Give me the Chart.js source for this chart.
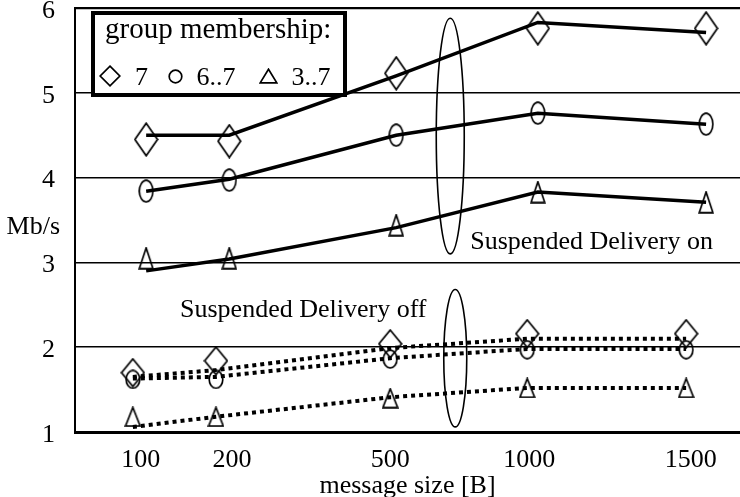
<!DOCTYPE html>
<html>
<head>
<meta charset="utf-8">
<script src="https://cdn.jsdelivr.net/npm/chart.js@4.4.0/dist/chart.umd.min.js"></script>
<style>
html, body { margin: 0; padding: 0; background: #fff; }
canvas { display: block; }
</style>
</head>
<body>
<canvas id="myChart" width="740" height="497"></canvas>
<script>
"use strict"
// message size [B] and group membership
const sizes = [100, 200, 500, 1000, 1500];
const groups = ['7', '6..7', '3..7'];

// Suspended Delivery on (solid lines), Mb/s
const onLine7 = [4.50, 4.50, 5.20, 5.83, 5.71];
const onLine67 = [3.84, 3.98, 4.50, 4.76, 4.63];
const onLine37 = [2.90, 3.04, 3.41, 3.83, 3.71];
const onMark7 = [4.45, 4.43, 5.23, 5.76, 5.76];
const onMark67 = [3.84, 3.97, 4.50, 4.76, 4.63];
const onMark37 = [3.05, 3.05, 3.44, 3.83, 3.71];

// Suspended Delivery off (dotted lines), Mb/s
const offLine7 = [1.65, 1.73, 1.99, 2.10, 2.10];
const offLine67 = [1.63, 1.65, 1.87, 1.98, 1.98];
const offLine37 = [1.06, 1.18, 1.41, 1.52, 1.52];
const offMark7 = [1.70, 1.84, 2.04, 2.16, 2.16];
const offMark67 = [1.62, 1.62, 1.86, 1.97, 1.97];
const offMark37 = [1.18, 1.18, 1.40, 1.52, 1.52];

const yTicks = [1, 2, 3, 4, 5, 6];

// the x axis of the drawing is not to scale: where each size sits along the axis (0..1)
const axisStops = {
    x:    [0.099, 0.236, 0.474, 0.683, 0.926], // tick labels
    xOn:  [0.107, 0.232, 0.483, 0.696, 0.949],
    xOff: [0.087, 0.212, 0.474, 0.680, 0.919]
};

class StopScale extends Chart.LinearScale {
    static id = 'stops';
    getPixelForValue(value) {
        const f = axisStops[this.id];
        let i = 0;
        while (i < sizes.length - 2 && value > sizes[i + 1]) i++;
        const d = f[i] + (value - sizes[i]) / (sizes[i + 1] - sizes[i]) * (f[i + 1] - f[i]);
        return this.getPixelForDecimal(d);
    }
    getValueForPixel(pixel) {
        const f = axisStops[this.id];
        const d = this.getDecimalForPixel(pixel);
        let i = 0;
        while (i < f.length - 2 && d > f[i + 1]) i++;
        return sizes[i] + (d - f[i]) / (f[i + 1] - f[i]) * (sizes[i + 1] - sizes[i]);
    }
}
Chart.register(StopScale);

// hollow markers, the plot ones are stretched in height like in the original figure
function marker(shape, w, h) {
    const c = document.createElement('canvas');
    c.width = w; c.height = h;
    const ctx = c.getContext('2d');
    const p = 1.2;
    ctx.lineWidth = 1.7;
    ctx.strokeStyle = '#000';
    ctx.beginPath();
    if (shape == 'diamond') {
        ctx.moveTo(w / 2, p); ctx.lineTo(w - p, h / 2); ctx.lineTo(w / 2, h - p); ctx.lineTo(p, h / 2); ctx.closePath();
    } else if (shape == 'circle') {
        ctx.ellipse(w / 2, h / 2, w / 2 - p, h / 2 - p, 0, 0, 2 * Math.PI);
    } else {
        ctx.moveTo(w / 2, p); ctx.lineTo(w - p, h - p); ctx.lineTo(p, h - p); ctx.closePath();
    }
    ctx.stroke();
    return c;
}

const onStyles = [marker('diamond', 25, 35), marker('circle', 16, 24), marker('triangle', 16, 23)];
const offStyles = [marker('diamond', 25, 30), marker('circle', 16, 20), marker('triangle', 17, 21)];
const legendStyles = [marker('diamond', 22, 22), marker('circle', 15, 15), marker('triangle', 19, 16)];

function pts(vals) {
    return sizes.map((s, i) => ({x: s, y: vals[i]}));
}
function lineSet(vals, axis, dotted) {
    return {data: pts(vals), xAxisID: axis, showLine: true, borderColor: '#000', borderWidth: dotted ? 4 : 3.5,
        borderDash: dotted ? [4, 4] : [], pointRadius: 0, fill: false, tension: 0};
}
function markSet(label, vals, axis, img) {
    return {label: label, data: pts(vals), xAxisID: axis, showLine: false, pointStyle: img,
        pointRadius: 5, borderColor: 'transparent', backgroundColor: 'transparent'};
}

const datasets = [
    lineSet(onLine7, 'xOn'), lineSet(onLine67, 'xOn'), lineSet(onLine37, 'xOn'),
    lineSet(offLine7, 'xOff', true), lineSet(offLine67, 'xOff', true), lineSet(offLine37, 'xOff', true),
    markSet(groups[0], onMark7, 'xOn', onStyles[0]), markSet(groups[1], onMark67, 'xOn', onStyles[1]),
    markSet(groups[2], onMark37, 'xOn', onStyles[2]),
    markSet(groups[0], offMark7, 'xOff', offStyles[0]), markSet(groups[1], offMark67, 'xOff', offStyles[1]),
    markSet(groups[2], offMark37, 'xOff', offStyles[2])
];

// notes in the plot, in axis units
const notes = [
    {text: 'Suspended Delivery on', x: 788, y: 3.16},
    {text: 'Suspended Delivery off', x: 143, y: 2.36}
];
const ovals = [
    {x: 716, y: 4.49, ry: 1.39, rx: 14},
    {x: 734, y: 1.87, ry: 0.81, rx: 11.5}
];

const serif = 'Liberation Serif, Times New Roman, serif';

const drawing = {
    id: 'drawing',
    beforeDraw(chart) {
        const ctx = chart.ctx;
        ctx.save();
        ctx.fillStyle = '#fff';
        ctx.fillRect(0, 0, chart.width, chart.height);
        ctx.restore();
    },
    afterDraw(chart) {
        const ctx = chart.ctx, a = chart.chartArea, sx = chart.scales.x, sy = chart.scales.y;
        ctx.save();
        ctx.strokeStyle = '#000';
        ctx.fillStyle = '#000';

        // ovals
        ctx.lineWidth = 1.6;
        ovals.forEach(o => {
            const cy = sy.getPixelForValue(o.y);
            const ry = sy.getPixelForValue(o.y - o.ry) - cy;
            ctx.beginPath();
            ctx.ellipse(sx.getPixelForValue(o.x), cy, o.rx, ry, 0, 0, 2 * Math.PI);
            ctx.stroke();
        });

        ctx.font = '26px ' + serif;
        ctx.textBaseline = 'alphabetic';
        ctx.textAlign = 'left';
        notes.forEach(n => ctx.fillText(n.text, sx.getPixelForValue(n.x), sy.getPixelForValue(n.y)));

        // y axis title, written horizontally
        ctx.textAlign = 'right';
        ctx.textBaseline = 'middle';
        ctx.fillText('Mb/s', a.left - 15, sy.getPixelForValue(3.42));

        // legend box
        const bx = a.left + 18, by = a.top + 5, bw = 252, bh = 82;
        ctx.fillStyle = '#fff';
        ctx.fillRect(bx, by, bw, bh);
        ctx.lineWidth = 4;
        ctx.strokeRect(bx, by, bw, bh);
        ctx.fillStyle = '#000';
        ctx.textAlign = 'left';
        ctx.textBaseline = 'alphabetic';
        ctx.font = '29px ' + serif;
        ctx.fillText('group membership:', bx + 12, by + 25);
        ctx.font = '26px ' + serif;
        const itemX = [17, 82, 175];
        groups.forEach((g, i) => {
            const img = legendStyles[i];
            const cx = bx + itemX[i], cy = by + 63;
            ctx.drawImage(img, Math.round(cx - img.width / 2), Math.round(cy - img.height / 2));
            ctx.fillText(g, cx + img.width / 2 + 14, by + 72);
        });
        ctx.restore();
    }
};

const hiddenX = () => ({
    type: 'stops', display: false, min: 0, max: 1600
});

const config = {
    type: 'scatter',
    data: {datasets: datasets},
    options: {
        responsive: false,
        animation: false,
        events: [],
        layout: {autoPadding: false, padding: {top: 8, left: 0, right: 0, bottom: 0}},
        plugins: {legend: {display: false}, tooltip: {enabled: false}},
        scales: {
            x: {
                type: 'stops', position: 'bottom', min: 0, max: 1600,
                afterBuildTicks: axis => { axis.ticks = sizes.map(v => ({value: v})); },
                afterFit: s => { s.height = 65; s.paddingLeft = 0; s.paddingRight = 0; },
                grid: {display: false, drawTicks: false},
                border: {display: true, color: '#000', width: 3},
                ticks: {color: '#000', font: {family: serif, size: 26}, padding: 13, maxRotation: 0,
                    callback: v => String(v)},
                title: {display: true, text: 'message size [B]', color: '#000',
                    font: {family: serif, size: 26}, padding: {top: 0, bottom: -5}}
            },
            xOn: hiddenX(),
            xOff: hiddenX(),
            y: {
                type: 'linear', position: 'left', min: 1, max: 6,
                afterBuildTicks: axis => { axis.ticks = yTicks.map(v => ({value: v})); },
                afterFit: s => { s.width = 75; s.paddingTop = 0; s.paddingBottom = 0; },
                grid: {
                    color: '#000', drawTicks: false,
                    lineWidth: c => c.tick && c.tick.value == 1 ? 0 : (c.tick && c.tick.value == 6 ? 2.2 : 1.6)
                },
                border: {display: true, color: '#000', width: 2},
                ticks: {color: '#000', font: {family: serif, size: 26}, padding: 20, labelOffset: 3,
                    callback: v => String(v)}
            }
        }
    },
    plugins: [drawing]
};

const my_chart = new Chart(document.getElementById('myChart'), config);
</script>
</body>
</html>
